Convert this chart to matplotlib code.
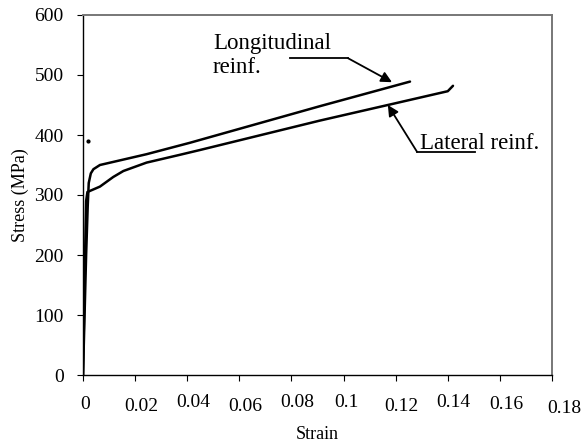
import matplotlib
matplotlib.use("Agg")
from matplotlib import pyplot as plt
from matplotlib.transforms import ScaledTranslation

# courbe armature longitudinale
long_strain = [0, 0.0006, 0.0012, 0.0018, 0.0022, 0.0030, 0.0040, 0.0065, 0.0244, 0.041, 0.0909, 0.1255]
long_stress = [0, 100, 200, 280, 320, 336, 343, 350, 368, 387, 448, 489]

# courbe armature laterale
lat_strain = [0, 0.0004, 0.0008, 0.0012, 0.0017, 0.0065, 0.0116, 0.0155, 0.0244, 0.0372, 0.0449, 0.0909, 0.1200, 0.1400, 0.1420]
lat_stress = [0, 100, 200, 290, 305, 314, 330, 340, 354, 367, 375, 424, 453, 473, 482]

# point isole
stray_strain = [0.0019]
stray_stress = [390]

x_ticks = [0, 0.02, 0.04, 0.06, 0.08, 0.1, 0.12, 0.14, 0.16, 0.18]
x_labels = ["0", "0.02", "0.04", "0.06", "0.08", "0.1", "0.12", "0.14", "0.16", "0.18"]
y_ticks = [0, 100, 200, 300, 400, 500, 600]

plt.rcParams["font.family"] = ["Liberation Serif", "DejaVu Serif"]

fig = plt.figure(figsize=(5.86, 4.46), dpi=100)
ax = fig.add_axes([83 / 586, 71 / 446, 469 / 586, 360 / 446])

ax.plot(long_strain, long_stress, color="black", lw=1.8, solid_capstyle="round")
ax.plot(lat_strain, lat_stress, color="black", lw=1.8, solid_capstyle="round")
ax.plot(stray_strain, stray_stress, "o", color="black", ms=2)

ax.set_xlim(0, 0.18)
ax.set_ylim(0, 600)
ax.set_xticks(x_ticks)
ax.set_xticklabels(x_labels)
ax.set_yticks(y_ticks)
ax.tick_params(axis="both", direction="out", length=4, width=0.8, labelsize=14)
ax.tick_params(axis="x", pad=10)
ax.tick_params(axis="y", pad=10)

# decalage des etiquettes comme dans l'original
dx = [2, 6, 6, 6, 6, 3, 6, 6, 6, 12]
dy = [2, 4, 0, 4, 0, 0, 4, 0, 2, 6]
for lab, a, b in zip(ax.get_xticklabels(), dx, dy):
    lab.set_transform(lab.get_transform() + ScaledTranslation(a / 100, -b / 100, fig.dpi_scale_trans))

ax.set_xlabel("Strain", fontsize=13, labelpad=6)
ax.set_ylabel("Stress (MPa)", fontsize=13, labelpad=4)

for s in ["top", "right"]:
    ax.spines[s].set_color("#777777")
    ax.spines[s].set_linewidth(1.4)
for s in ["left", "bottom"]:
    ax.spines[s].set_color("black")
    ax.spines[s].set_linewidth(1.0)

# annotations
ax.text(0.0499, 570, "Longitudinal\nreinf.", fontsize=16.5, ha="left", va="top", linespacing=1.2)
ax.plot([0.0794, 0.1017], [528, 528], color="black", lw=1.3)
ax.annotate("", xy=(0.1186, 488), xytext=(0.1017, 528),
            arrowprops=dict(arrowstyle="-|>", color="black", lw=1.3, mutation_scale=16, shrinkA=0, shrinkB=0))

ax.text(0.1293, 376, "Lateral reinf.", fontsize=16.5, ha="left", va="baseline")
ax.plot([0.1282, 0.1504], [372, 372], color="black", lw=1.3)
ax.annotate("", xy=(0.117, 450), xytext=(0.1282, 372),
            arrowprops=dict(arrowstyle="-|>", color="black", lw=1.3, mutation_scale=16, shrinkA=0, shrinkB=0))

fig.savefig("out.png", dpi=100)
plt.close()
